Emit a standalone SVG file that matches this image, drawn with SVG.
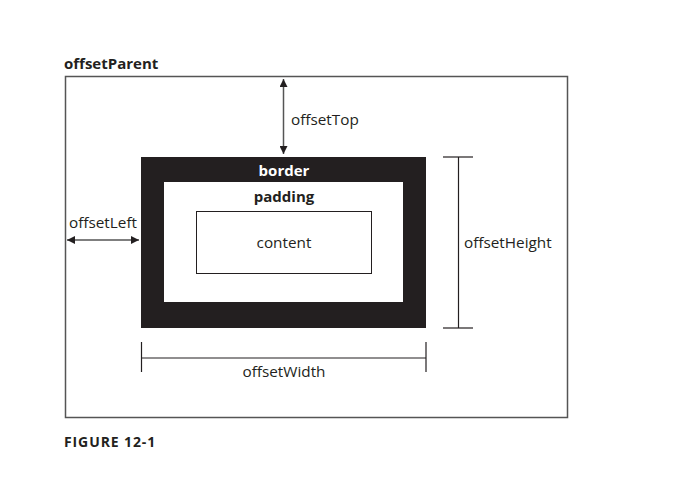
<svg xmlns="http://www.w3.org/2000/svg" width="691" height="486" viewBox="0 0 691 486">
<defs>
<style>
text{font-family:"Open Sans","Liberation Sans",sans-serif;font-size:15.3px;fill:#231f20}
.b{font-weight:bold;font-size:15px}
.w{fill:#ffffff}
.m{text-anchor:middle}
.ln{stroke:#555555;stroke-width:1.5;fill:none}
.dim{stroke:#231f20;stroke-width:1.2;fill:none}
</style>
<marker id="ah" viewBox="0 0 10 10" refX="10" refY="5" markerWidth="8" markerHeight="8" markerUnits="userSpaceOnUse" orient="auto-start-reverse">
<path d="M0,0 L10,5 L0,10 Z" fill="#231f20"/>
</marker>
</defs>
<rect width="691" height="486" fill="#ffffff"/>
<g id="offsetParent">
<rect x="65.5" y="76.5" width="502" height="341" fill="none" stroke="#555555" stroke-width="1.5"/>
<text class="b" x="64" y="69">offsetParent</text>
</g>
<g id="border">
<rect x="141" y="157" width="285" height="171" fill="#231f20"/>
<text class="b w m" x="284" y="176">border</text>
</g>
<g id="padding">
<rect x="164" y="182" width="239" height="120" fill="#ffffff"/>
<text class="b m" x="284" y="202">padding</text>
</g>
<g id="content">
<rect x="196.5" y="211.5" width="175" height="62" fill="#ffffff" stroke="#231f20" stroke-width="1"/>
<text class="m" x="284" y="248">content</text>
</g>
<g id="connectors">
<line class="ln" x1="283.5" y1="79" x2="283.5" y2="154" marker-start="url(#ah)" marker-end="url(#ah)"/>
<line class="ln" x1="67" y1="240" x2="139" y2="240" marker-start="url(#ah)" marker-end="url(#ah)"/>
<line class="dim" x1="458.5" y1="157" x2="458.5" y2="328"/>
<line class="dim" x1="443" y1="157" x2="473" y2="157"/>
<line class="dim" x1="443" y1="328" x2="473" y2="328"/>
<line class="dim" x1="141.5" y1="358" x2="426" y2="358"/>
<line class="dim" x1="141.5" y1="342" x2="141.5" y2="372"/>
<line class="dim" x1="426" y1="342" x2="426" y2="372"/>
</g>
<g id="labels">
<text x="291" y="125">offsetTop</text>
<text x="69" y="228">offsetLeft</text>
<text x="464" y="248">offsetHeight</text>
<text class="m" x="284" y="377">offsetWidth</text>
<text class="b" x="64" y="447" style="font-size:14px;letter-spacing:0.9px">FIGURE 12-1</text>
</g>
</svg>
